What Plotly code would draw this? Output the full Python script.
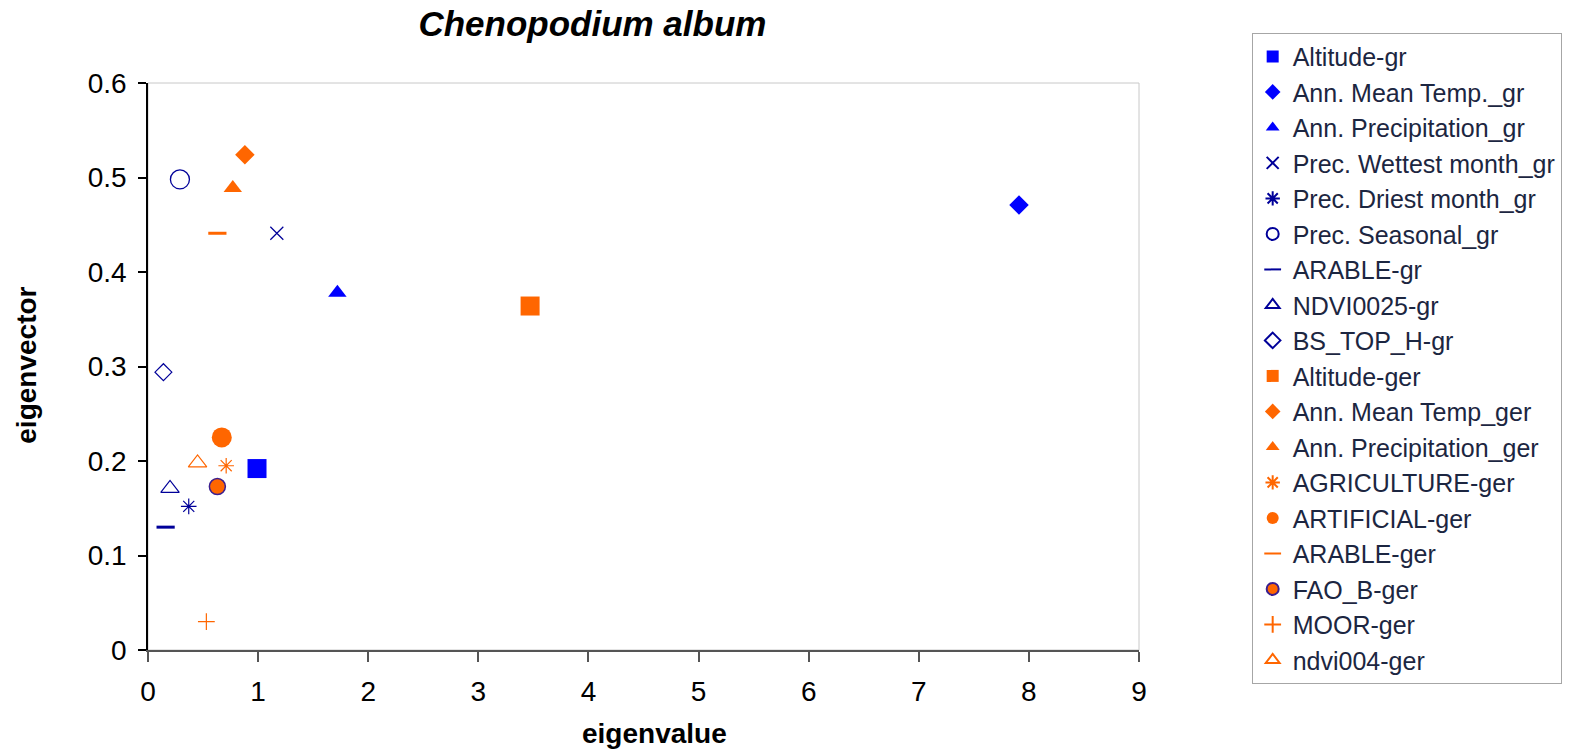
import plotly.graph_objects as go

# ---- data ----
names = [
    "Altitude-gr", "Ann. Mean Temp._gr", "Ann. Precipitation_gr",
    "Prec. Wettest month_gr", "Prec. Driest month_gr", "Prec. Seasonal_gr",
    "ARABLE-gr", "NDVI0025-gr", "BS_TOP_H-gr",
    "Altitude-ger", "Ann. Mean Temp_ger", "Ann. Precipitation_ger",
    "AGRICULTURE-ger", "ARTIFICIAL-ger", "ARABLE-ger", "FAO_B-ger",
    "MOOR-ger", "ndvi004-ger",
]
eigenvalue = [0.99, 7.91, 1.72, 1.17, 0.37, 0.29, 0.16, 0.20, 0.14,
              3.47, 0.88, 0.77, 0.71, 0.67, 0.63, 0.63, 0.53, 0.45]
eigenvector = [0.192, 0.471, 0.378, 0.441, 0.152, 0.498, 0.130, 0.171, 0.294,
               0.364, 0.524, 0.489, 0.195, 0.225, 0.441, 0.173, 0.030, 0.198]

BLUE = "#0000FF"
NAVY = "#000099"
ORANGE = "#FF6600"

# marker styles: (symbol, size, fill color, line color, line width)
styles = [
    ("square", 19, BLUE, BLUE, 0),
    ("diamond", 15, BLUE, BLUE, 0),
    ("triangle-up", 16, BLUE, BLUE, 0),
    ("x-thin-open", 13, NAVY, NAVY, 1.2),
    ("asterisk-open", 13, NAVY, NAVY, 1.2),
    ("circle-open", 19, NAVY, NAVY, 1.3),
    ("line-ew-open", 13, NAVY, NAVY, 3),
    ("triangle-up-open", 16, NAVY, NAVY, 1.2),
    ("diamond-open", 13, NAVY, NAVY, 1.2),
    ("square", 19, ORANGE, ORANGE, 0),
    ("diamond", 15, ORANGE, ORANGE, 0),
    ("triangle-up", 16, ORANGE, ORANGE, 0),
    ("asterisk-open", 13, ORANGE, ORANGE, 1.2),
    ("circle", 20, ORANGE, ORANGE, 0),
    ("line-ew-open", 13, ORANGE, ORANGE, 3),
    ("circle", 16, ORANGE, "#3b1f8f", 1.5),
    ("cross-thin-open", 12, ORANGE, ORANGE, 1.2),
    ("triangle-up-open", 16, ORANGE, ORANGE, 1.2),
]

fig = go.Figure()
for i, name in enumerate(names):
    sym, size, col, lcol, lw = styles[i]
    fig.add_trace(go.Scatter(
        x=[eigenvalue[i]], y=[eigenvector[i]], name=name, mode="markers",
        marker=dict(symbol=sym, size=size, color=col,
                    line=dict(color=lcol, width=lw)),
    ))

FONT = "Liberation Sans, Arial, sans-serif"

fig.update_layout(
    width=1584, height=752,
    margin=dict(l=148, r=445, t=83, b=102),
    paper_bgcolor="white", plot_bgcolor="white",
    font=dict(family=FONT, color="black"),
    title=dict(text="<b><i>Chenopodium album</i></b>", font=dict(size=35, color="black"),
               x=0.374, xref="container", xanchor="center",
               y=0.969, yref="container", yanchor="middle"),
    showlegend=True,
    legend=dict(x=1.1137, y=1.0888, xanchor="left", yanchor="top",
                bordercolor="#a6a6a6", borderwidth=1, bgcolor="white",
                font=dict(size=25, color="#1c2641"), maxheight=740,
                itemsizing="constant"),
    shapes=[dict(type="rect", xref="paper", yref="paper", x0=0, x1=1, y0=0, y1=1,
                 line=dict(color="#c8c8c8", width=1), layer="below")],
    annotations=[
        dict(text="<b>eigenvalue</b>", xref="paper", yref="paper",
             x=0.511, y=-0.1465, xanchor="center", yanchor="middle",
             showarrow=False, font=dict(size=28, color="black")),
        dict(text="<b>eigenvector</b>", xref="paper", yref="paper",
             x=-0.1222, y=0.503, xanchor="center", yanchor="middle",
             textangle=-90, showarrow=False, font=dict(size=28, color="black")),
    ],
)
fig.update_xaxes(range=[0, 9], dtick=1, showgrid=False, zeroline=False, automargin=False,
                 showline=True, linecolor="#555555", linewidth=2,
                 ticks="outside", ticklen=10, tickwidth=1.5, tickcolor="#555555",
                 tickfont=dict(size=28, color="black"), ticklabelstandoff=5)
fig.update_yaxes(range=[0, 0.6], dtick=0.1, showgrid=False, zeroline=False, automargin=False,
                 showline=True, linecolor="black", linewidth=1.5,
                 ticks="outside", ticklen=8, tickwidth=1.5, tickcolor="black",
                 tickfont=dict(size=28, color="black"), ticklabelstandoff=6)

fig.write_html("out.html")
